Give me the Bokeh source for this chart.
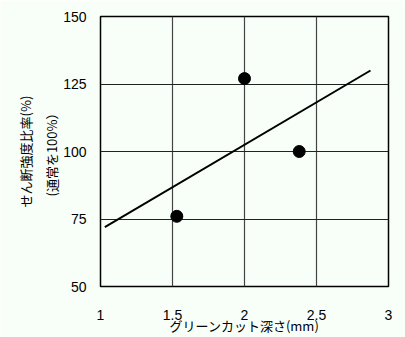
from bokeh.plotting import figure
from bokeh.models import Range1d, FixedTicker, Title
from bokeh.embed import file_html
from bokeh.resources import INLINE

depth = [1.53, 2.0, 2.38]
strength = [76, 127, 100]
fit_x = [1.03, 2.875]
fit_y = [72, 130]
x_ticks = [1, 1.5, 2, 2.5, 3]
y_ticks = [50, 75, 100, 125, 150]
x_title = "グリーンカット深さ(mm)"
y_title_main = "せん断強度比率(%)"
y_title_sub = "(通常を100%）"

BG = "#F8FFF8"
FONT = "Liberation Sans"
CJK = "Noto Sans CJK JP"

p = figure(width=405, height=337, output_backend="svg", toolbar_location=None,
           x_range=Range1d(1, 3), y_range=Range1d(50, 150),
           min_border_left=100, min_border_right=17, min_border_top=16, min_border_bottom=50)
p.background_fill_color = BG
p.border_fill_color = BG
p.outline_line_color = "black"
p.outline_line_width = 1.5

p.line(fit_x, fit_y, line_color="black", line_width=2)
p.scatter(depth, strength, size=12, color="black")

for ax in (p.xaxis, p.yaxis):
    ax.axis_line_color = None
    ax.major_tick_line_color = None
    ax.minor_tick_line_color = None
    ax.major_tick_out = 0
    ax.major_tick_in = 0
    ax.minor_tick_out = 0
    ax.major_label_text_font = FONT
    ax.major_label_text_font_size = "14px"
    ax.major_label_text_color = "black"
    ax.axis_label_text_font = CJK
    ax.axis_label_text_font_size = "13px"
    ax.axis_label_text_font_style = "normal"
    ax.axis_label_text_color = "black"

p.xaxis.ticker = FixedTicker(ticks=x_ticks)
p.yaxis.ticker = FixedTicker(ticks=y_ticks)
p.xaxis.major_label_overrides = {1: "1", 1.5: "1.5", 2: "2", 2.5: "2.5", 3: "3"}
p.xaxis.major_label_standoff = 23
p.yaxis.major_label_standoff = 14
p.xaxis.axis_label = x_title
p.xaxis.axis_label_standoff = -7
p.yaxis.axis_label = y_title_sub
p.yaxis.axis_label_standoff = -1

p.xgrid.grid_line_color = "#444444"
p.ygrid.grid_line_color = "#222222"
p.xgrid.grid_line_width = 1.2
p.ygrid.grid_line_width = 1.2

p.add_layout(Title(text=y_title_main, align="center", text_font=CJK, text_font_size="13px",
                   text_font_style="normal", text_color="black", standoff=9), "left")

open("out.html", "w").write(file_html(p, INLINE))
